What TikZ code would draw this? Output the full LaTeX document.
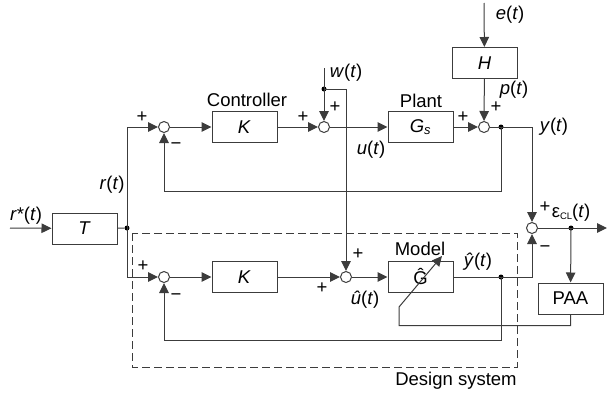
\documentclass[tikz,border=0pt]{standalone}
\usepackage{fontspec}
\setmainfont{Liberation Sans}
\usetikzlibrary{arrows.meta,positioning,calc}
\definecolor{linegray}{RGB}{60,60,60}

\newcommand{\sig}[1]{\textit{#1}(\textit{t})}

\begin{document}
\begin{tikzpicture}[x=1pt,y=-1pt,
        font=\fontsize{18.5}{21}\selectfont,
        block/.style={rectangle, draw=linegray, line width=1pt, minimum width=65pt, minimum height=31pt, inner sep=0pt},
        summer/.style={circle, draw=linegray, line width=1pt, minimum size=11pt, inner sep=0pt, fill=white},
        dotnode/.style={circle, fill=black, minimum size=5pt, inner sep=0pt},
        arrow/.style={-{Triangle[length=10pt,width=9.5pt]}, line width=1pt, linegray},
        wire/.style={line width=1pt, linegray},
        sign/.style={inner sep=0pt}]

        \useasboundingbox (0,0) rectangle (608,394);

        % blocks
        \node[block] (T) at (84.5,228.5) {\textit{T}};
        \node[block] (K1) at (244.5,127) {\textit{K}};
        \node[block] (Gs) at (420.5,127) {\textit{G}\textsubscript{\textit{s}}};
        \node[block] (H) at (484.5,63) {\textit{H}};
        \node[block] (K2) at (244.5,277) {\textit{K}};
        \node[block] (Gh) at (420.5,277) {\^G};
        \node[block] (PAA) at (570.5,298.5) {PAA};

        % summing points
        \node[summer] (s1) at (164,127) {};
        \node[summer] (s2) at (324,127) {};
        \node[summer] (s3) at (484,127) {};
        \node[summer] (s4) at (164,277) {};
        \node[summer] (s5) at (346,277) {};
        \node[summer] (se) at (532,228) {};

        % branch points
        \node[dotnode] (dr) at (127,228) {};
        \node[dotnode] (dw) at (324,89) {};
        \node[dotnode] (dy) at (501,127) {};
        \node[dotnode] (dyh) at (501,277) {};
        \node[dotnode] (de) at (571,228) {};

        \coordinate (rin) at (10,228);
        \coordinate (win) at (324,68);
        \coordinate (ein) at (484,3);
        \coordinate (eout) at (607,228);
        \coordinate (adjtail) at (399,307);
        \coordinate (adjtip) at (442,256);

        % design system frame
        \draw[linegray, line width=1pt, dash pattern=on 8pt off 4pt] (132,233) rectangle (517,367);

        % connectors
        \draw[arrow] (rin) -- (T);
        \draw[wire] (T) -- (dr);
        \draw[arrow] (dr.center) |- (s1);
        \draw[arrow] (dr.center) |- (s4);
        \draw[arrow] (s1) -- (K1);
        \draw[arrow] (K1) -- (s2);
        \draw[arrow] (s2) -- (Gs);
        \draw[arrow] (Gs) -- (s3);
        \draw[arrow] (s3) -| (se);
        \draw[arrow] (ein) -- (H);
        \draw[arrow] (H) -- (s3);
        \draw[arrow] (win) -- (s2);
        \draw[arrow] (dw.center) -| (s5);
        \draw[arrow] (dy.center) -- ++(0,64) -| (s1);
        \draw[arrow] (s4) -- (K2);
        \draw[arrow] (K2) -- (s5);
        \draw[arrow] (s5) -- (Gh);
        \draw[arrow] (Gh) -| (se);
        \draw[arrow] (dyh.center) -- ++(0,63) -| (s4);
        \draw[arrow] (se) -- (eout);
        \draw[arrow] (de.center) -- (PAA);
        \draw[arrow] (PAA.south) -- ++(0,11) -| (adjtail) -- (adjtip);

        % block titles
        \node (lctrl) at (247,100) {Controller};
        \node (lplant) at (421,100.5) {Plant};
        \node (lmodel) at (420,249) {Model};
        \node (ldesign) at (456,381) {Design system};

        % signals
        \node (lr) at (112,185) {\sig{r}};
        \node (lrs) at (26,216) {\textit{r*}(\textit{t})};
        \node (lw) at (346,73) {\sig{w}};
        \node (lu) at (371,150) {\sig{u}};
        \node (le) at (510,15) {\sig{e}};
        \node (lp) at (514,90) {\sig{p}};
        \node (ly) at (554,127) {\sig{y}};
        \node (leps) at (571,213) {ε\raisebox{-2pt}{\fontsize{9.5}{9.5}\selectfont CL}(\textit{t})};
        \node (lyh) at (478,262) {\textit{\^y}(\textit{t})};
        \node (luh) at (365,300) {\textit{\^u}(\textit{t})};

        % signs
        \node[sign] (p1) at (142,117) {+};
        \node[sign] (m1) at (176,146) {−};
        \node[sign] (p2a) at (303,117) {+};
        \node[sign] (p2b) at (335,107) {+};
        \node[sign] (p3a) at (463,117) {+};
        \node[sign] (p3b) at (496,107) {+};
        \node[sign] (pea) at (545,207) {+};
        \node[sign] (mea) at (545,249) {−};
        \node[sign] (p4) at (143,266) {+};
        \node[sign] (m4) at (176,297) {−};
        \node[sign] (p5a) at (358,254) {+};
        \node[sign] (p5b) at (322,288) {+};

    \end{tikzpicture}
\end{document}
